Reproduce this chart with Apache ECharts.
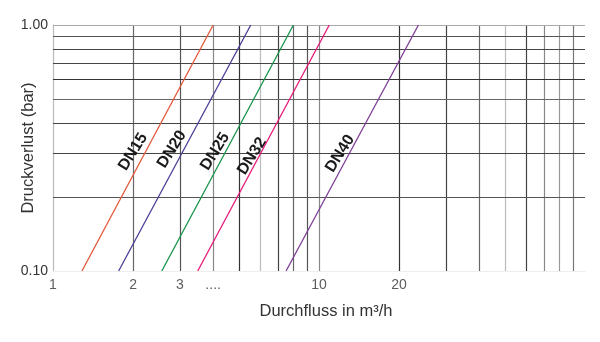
<!DOCTYPE html>
<html><head><meta charset="utf-8">
<script src="https://cdn.jsdelivr.net/npm/echarts@6/dist/echarts.min.js"></script>
<style>html,body{margin:0;padding:0;background:#fff}#c{width:600px;height:342px}</style>
</head><body><div id="c"></div>
<script>
// ---- data ----
const xTickValues = [1, 2, 3, 4, 10, 20];
const xTickLabels = ['1', '2', '3', '....', '10', '20'];
const xGridValues = [2, 3, 4, 5, 6, 7, 8, 9, 10, 20, 30, 40, 50, 60, 70, 80, 90];
const xGridShades = ['#666', '#555', '#888', '#333', '#bbb', '#444', '#666', '#555', '#888', '#333', '#444', '#666', '#bbb', '#444', '#888', '#999', '#777'];
const yGridValues = [0.2, 0.3, 0.4, 0.5, 0.6, 0.7, 0.8, 0.9, 1.0];
const yGridShades = ['#555', '#444', '#444', '#666', '#333', '#444', '#444', '#555', '#aaa'];
const seriesNames = ['DN15', 'DN20', 'DN25', 'DN32', 'DN40'];
const seriesColors = ['#e4583b', '#4d3d96', '#17944a', '#e6197a', '#7e3d96'];
const dn15 = [[1.285, 0.1], [4.0, 1.0]];
const dn20 = [[1.765, 0.1], [5.54, 1.0]];
const dn25 = [[2.565, 0.1], [8.01, 1.0]];
const dn32 = [[3.50, 0.1], [10.93, 1.0]];
const dn40 = [[7.52, 0.1], [23.65, 1.0]];
const seriesData = [dn15, dn20, dn25, dn32, dn40];
const labelAnchors = [[2.0, 0.305], [2.8, 0.312], [4.07, 0.306], [5.6, 0.293], [12.0, 0.3]];

const FONT = 'Liberation Sans';
const chart = echarts.init(document.getElementById('c'), null, {renderer: 'canvas'});

const series = seriesNames.map((name, i) => ({
  name, type: 'line', data: seriesData[i], symbol: 'none', silent: true,
  lineStyle: {color: seriesColors[i], width: 1.3}, z: 5,
  markPoint: {
    symbol: 'circle', symbolSize: 0, silent: true, animation: false,
    data: [{coord: labelAnchors[i], value: name}],
    label: {show: true, position: 'inside', formatter: name, rotate: 58,
      color: '#1a1a1a', fontFamily: FONT, fontWeight: 'bold', fontSize: 16}
  }
}));

// grid lines through axis scale
series.push({
  type: 'line', data: [], silent: true,
  markLine: {
    silent: true, symbol: 'none', animation: false, label: {show: false},
    data: xGridValues.map((v, i) => ({xAxis: v, lineStyle: {color: xGridShades[i], width: 1.2, type: 'solid'}}))
      .concat(yGridValues.map((v, i) => ({yAxis: v, lineStyle: {color: yGridShades[i], width: 1.2, type: 'solid'}})))
  }
});
// x tick labels
series.push({
  type: 'scatter', silent: true, symbolSize: 0.01, clip: false,
  data: xTickValues.map(v => [v, 0.1]),
  label: {show: true, position: 'bottom', distance: 7, color: '#333', fontFamily: FONT, fontSize: 14,
    formatter: p => xTickLabels[p.dataIndex]}
});

chart.setOption({
  animation: false,
  grid: {left: 53, right: 15, top: 25, bottom: 71, containLabel: false, outerBoundsMode: 'none'},
  xAxis: {
    type: 'log', min: 1, max: 100, logBase: 10,
    axisLine: {show: true, lineStyle: {color: '#eee'}},
    axisTick: {show: false}, axisLabel: {show: false}, splitLine: {show: false},
    name: 'Durchfluss in m³/h', nameLocation: 'middle', nameGap: 32, nameMoveOverlap: false,
    nameTextStyle: {color: '#333', fontFamily: FONT, fontSize: 16.5, padding: [0, 0, 0, 14]}
  },
  yAxis: {
    type: 'log', min: 0.1, max: 1, logBase: 10,
    axisLine: {show: true, lineStyle: {color: '#bbb', width: 1.2}},
    axisTick: {show: false},
    axisLabel: {color: '#333', fontFamily: FONT, fontSize: 14, margin: 5, formatter: v => Number(v).toFixed(2)},
    splitLine: {show: false},
    name: 'Druckverlust (bar)', nameLocation: 'middle', nameGap: 16, nameMoveOverlap: false,
    nameTextStyle: {color: '#333', fontFamily: FONT, fontSize: 16.5, padding: [0, 0, 0, 0]}
  },
  series
});
</script></body></html>
